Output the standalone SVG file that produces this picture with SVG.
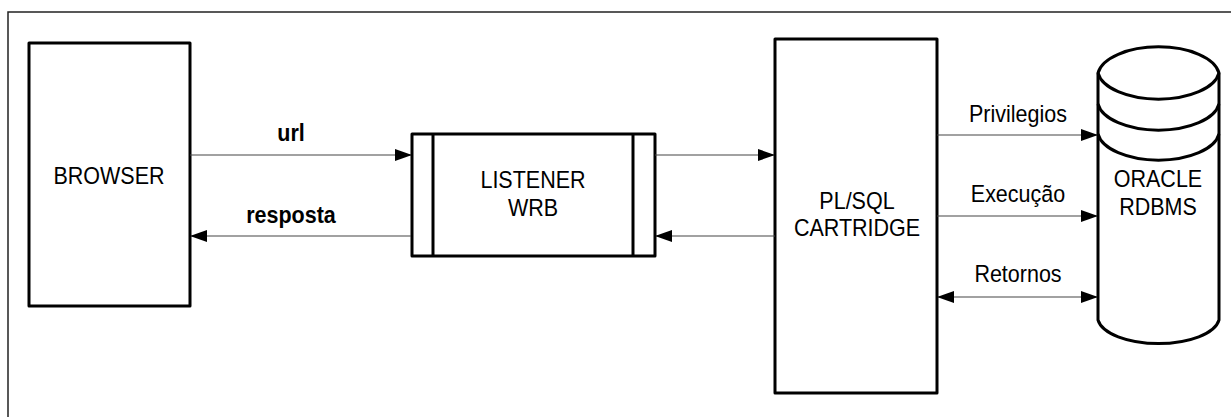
<svg xmlns="http://www.w3.org/2000/svg" width="1231" height="417" viewBox="0 0 1231 417">
<style>
.box{fill:#fff;stroke:#000;stroke-width:3;stroke-linejoin:round}
.frame{fill:none;stroke:#222;stroke-width:1.5}
.con{fill:none;stroke:#444;stroke-width:1.2}
.t{font-family:"Liberation Sans",Arial,sans-serif;font-size:21.5px;fill:#000;text-anchor:middle}
.b{font-weight:bold}
</style>
<defs>
<marker id="ah" markerUnits="userSpaceOnUse" markerWidth="17" markerHeight="12" refX="16" refY="6" orient="auto-start-reverse" viewBox="0 0 17 12">
<path d="M0,0 L17,6 L0,12 Z" fill="#000"/>
</marker>
</defs>
<rect x="8" y="12" width="1240" height="420" class="frame"/>
<g id="browser">
<rect x="29" y="43" width="161" height="263" class="box"/>
<text x="109" y="184" class="t" transform="translate(0,-18.4) scale(1,1.1)">BROWSER</text>
</g>
<g id="listener">
<rect x="412" y="134" width="243" height="122" class="box"/>
<line x1="433" y1="134" x2="433" y2="256" stroke="#000" stroke-width="3"/>
<line x1="633" y1="134" x2="633" y2="256" stroke="#000" stroke-width="3"/>
<text x="533" y="188" class="t" transform="translate(0,-18.8) scale(1,1.1)">LISTENER</text>
<text x="533" y="216" class="t" transform="translate(0,-21.6) scale(1,1.1)">WRB</text>
</g>
<g id="cartridge">
<rect x="775" y="39" width="162" height="354" class="box"/>
<text x="857" y="209" class="t" transform="translate(0,-20.9) scale(1,1.1)">PL/SQL</text>
<text x="857" y="236" class="t" transform="translate(0,-23.6) scale(1,1.1)">CARTRIDGE</text>
</g>
<g id="oracle">
<path d="M1098,73 A61,30 0 0,1 1219,73 L1219,320 A61,27 0 0,1 1098,320 Z" class="box"/>
<path d="M1098,73 A61,30 0 0,0 1219,73 M1098,104 A61,30 0 0,0 1219,104 M1098,134 A61,30 0 0,0 1219,134" fill="none" stroke="#000" stroke-width="3"/>
<text x="1158" y="187" class="t" transform="translate(0,-18.7) scale(1,1.1)">ORACLE</text>
<text x="1158" y="215" class="t" transform="translate(0,-21.5) scale(1,1.1)">RDBMS</text>
</g>
<g id="connectors">
<line x1="190" y1="155" x2="411" y2="155" class="con" marker-end="url(#ah)"/>
<text x="291" y="141" class="t b" transform="translate(0,-14.1) scale(1,1.1)">url</text>
<line x1="411" y1="236" x2="191" y2="236" class="con" marker-end="url(#ah)"/>
<text x="291" y="223" class="t b" transform="translate(0,-22.3) scale(1,1.1)">resposta</text>
<line x1="655" y1="155" x2="774" y2="155" class="con" marker-end="url(#ah)"/>
<line x1="775" y1="236" x2="656" y2="236" class="con" marker-end="url(#ah)"/>
<line x1="937" y1="135" x2="1097" y2="135" class="con" marker-end="url(#ah)"/>
<text x="1018" y="122" class="t" transform="translate(0,-12.2) scale(1,1.1)">Privilegios</text>
<line x1="937" y1="216" x2="1097" y2="216" class="con" marker-end="url(#ah)"/>
<text x="1018" y="202" class="t" transform="translate(0,-20.2) scale(1,1.1)">Execução</text>
<line x1="938" y1="297" x2="1097" y2="297" class="con" marker-start="url(#ah)" marker-end="url(#ah)"/>
<text x="1018" y="282" class="t" transform="translate(0,-28.2) scale(1,1.1)">Retornos</text>
</g>
</svg>
